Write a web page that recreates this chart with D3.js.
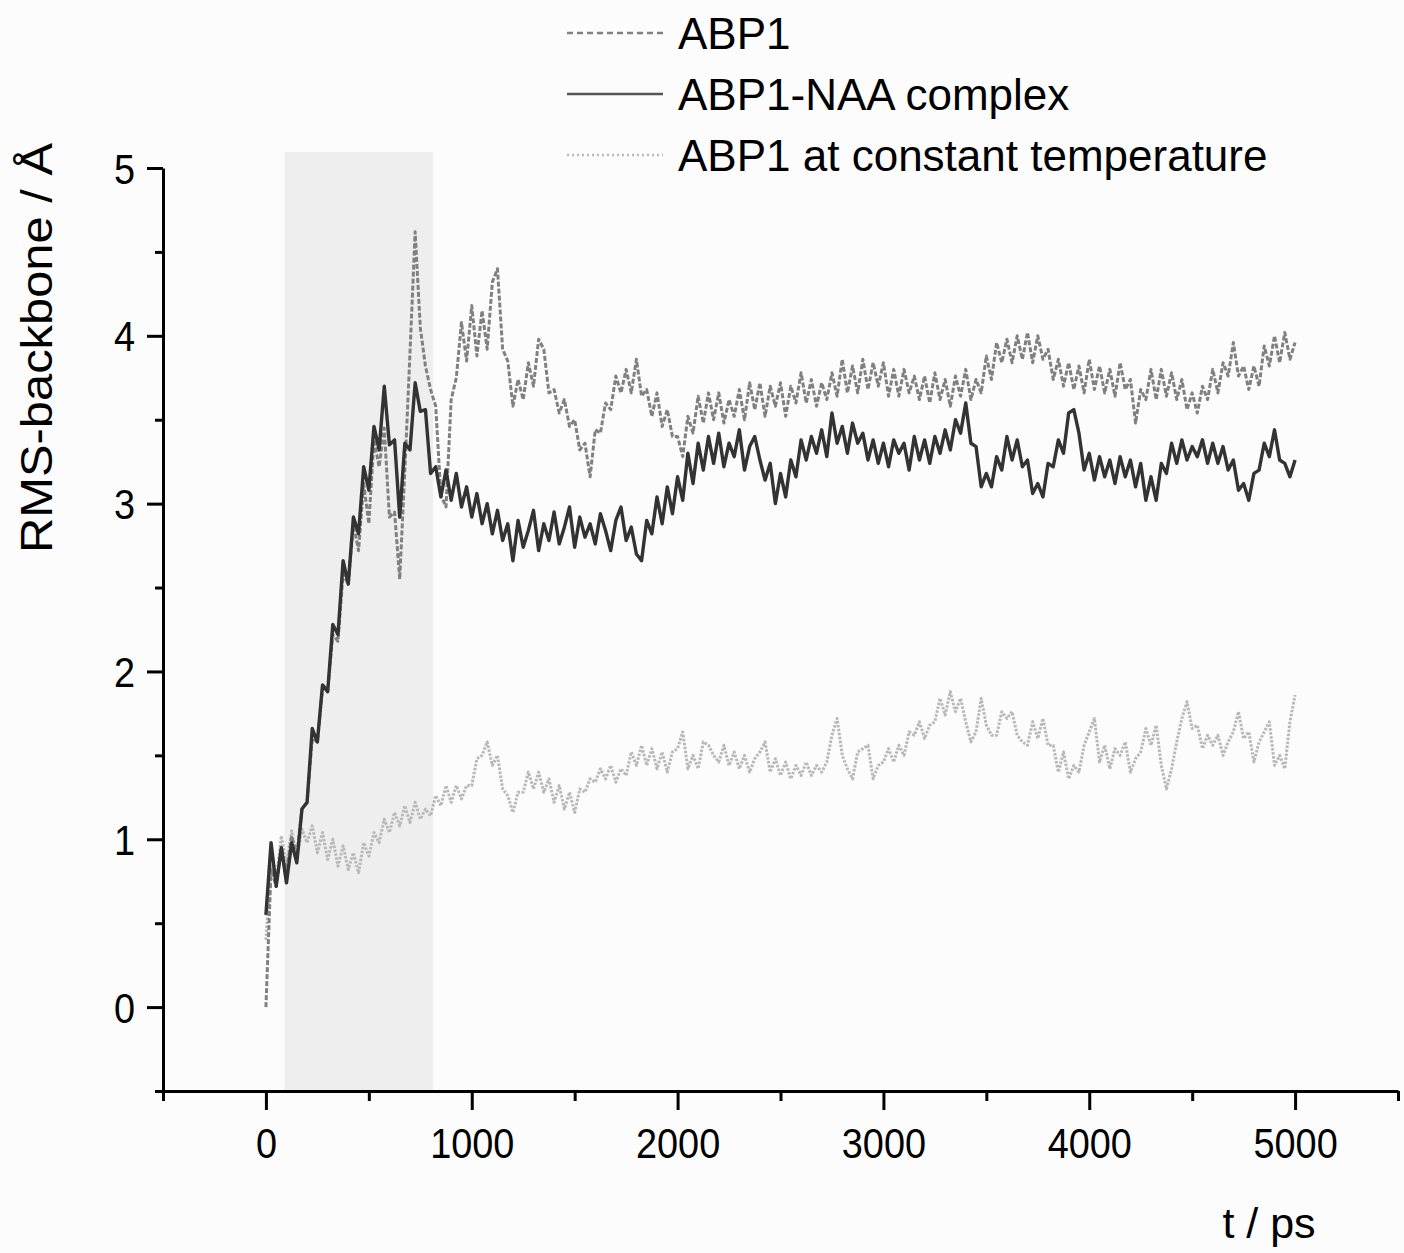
<!DOCTYPE html>
<html>
<head>
<meta charset="utf-8">
<script src="https://cdn.jsdelivr.net/npm/d3@7"></script>
<style>
body { margin: 0; background: #fcfcfc; }
text { font-family: "Liberation Sans", Arial, sans-serif; fill: #000; }
</style>
</head>
<body>
<svg id="chart" width="1404" height="1253"></svg>
<script>
// RMS of the backbone during the MD runs, every 25 ps
var step = 25;

var abp1 = [
	0.00, 0.82, 0.72, 0.95, 0.80, 1.02, 0.90, 1.18,
	1.22, 1.60, 1.58, 1.90, 1.88, 2.22, 2.18, 2.58,
	2.52, 2.88, 2.72, 3.12, 2.88, 3.38, 3.22, 3.45,
	2.92, 2.95, 2.55, 3.20, 3.90, 4.62, 4.05, 3.82,
	3.68, 3.58, 3.05, 2.98, 3.62, 3.75, 4.08, 3.85,
	4.18, 3.88, 4.15, 3.92, 4.32, 4.40, 3.92, 3.85,
	3.58, 3.74, 3.62, 3.84, 3.70, 3.98, 3.92, 3.66,
	3.68, 3.54, 3.62, 3.46, 3.50, 3.32, 3.36, 3.16,
	3.44, 3.42, 3.60, 3.56, 3.76, 3.66, 3.80, 3.66,
	3.86, 3.64, 3.68, 3.52, 3.66, 3.46, 3.56, 3.40,
	3.40, 3.28, 3.52, 3.42, 3.64, 3.48, 3.66, 3.50,
	3.66, 3.48, 3.62, 3.52, 3.68, 3.50, 3.72, 3.56,
	3.72, 3.52, 3.70, 3.58, 3.72, 3.52, 3.70, 3.60,
	3.78, 3.60, 3.74, 3.58, 3.72, 3.62, 3.78, 3.64,
	3.86, 3.66, 3.82, 3.66, 3.86, 3.68, 3.84, 3.70,
	3.84, 3.64, 3.80, 3.64, 3.80, 3.66, 3.76, 3.62,
	3.76, 3.60, 3.78, 3.62, 3.74, 3.58, 3.76, 3.64,
	3.80, 3.62, 3.74, 3.66, 3.88, 3.74, 3.96, 3.84,
	3.98, 3.84, 4.00, 3.86, 4.02, 3.84, 4.00, 3.86,
	3.92, 3.74, 3.86, 3.70, 3.84, 3.68, 3.82, 3.66,
	3.86, 3.68, 3.82, 3.66, 3.80, 3.64, 3.84, 3.68,
	3.74, 3.48, 3.68, 3.62, 3.80, 3.62, 3.80, 3.64,
	3.78, 3.62, 3.74, 3.56, 3.66, 3.54, 3.70, 3.62,
	3.80, 3.66, 3.84, 3.76, 3.96, 3.76, 3.82, 3.68,
	3.82, 3.70, 3.94, 3.82, 4.00, 3.84, 4.02, 3.86,
	3.96
];

var complex = [
	0.55, 0.98, 0.72, 0.95, 0.74, 0.98, 0.86, 1.18,
	1.22, 1.66, 1.58, 1.92, 1.88, 2.28, 2.22, 2.66,
	2.52, 2.92, 2.82, 3.22, 3.08, 3.46, 3.32, 3.70,
	3.35, 3.38, 2.92, 3.36, 3.32, 3.72, 3.55, 3.56,
	3.18, 3.22, 3.04, 3.20, 3.02, 3.18, 2.98, 3.10,
	2.92, 3.06, 2.88, 3.00, 2.82, 2.96, 2.78, 2.88,
	2.66, 2.90, 2.74, 2.84, 2.96, 2.72, 2.88, 2.78,
	2.95, 2.76, 2.86, 2.98, 2.74, 2.92, 2.80, 2.88,
	2.76, 2.94, 2.84, 2.72, 2.90, 2.98, 2.78, 2.86,
	2.70, 2.66, 2.90, 2.82, 3.04, 2.88, 3.10, 2.94,
	3.16, 3.02, 3.30, 3.12, 3.36, 3.20, 3.40, 3.24,
	3.42, 3.22, 3.36, 3.28, 3.44, 3.20, 3.34, 3.40,
	3.26, 3.14, 3.24, 3.00, 3.18, 3.04, 3.26, 3.16,
	3.38, 3.26, 3.40, 3.30, 3.44, 3.28, 3.54, 3.36,
	3.46, 3.30, 3.48, 3.36, 3.42, 3.26, 3.38, 3.24,
	3.36, 3.22, 3.38, 3.30, 3.36, 3.20, 3.40, 3.26,
	3.38, 3.24, 3.40, 3.30, 3.44, 3.32, 3.50, 3.42,
	3.60, 3.36, 3.34, 3.10, 3.18, 3.10, 3.28, 3.20,
	3.40, 3.26, 3.38, 3.22, 3.26, 3.06, 3.12, 3.04,
	3.24, 3.22, 3.38, 3.30, 3.54, 3.56, 3.42, 3.20,
	3.30, 3.14, 3.28, 3.16, 3.26, 3.12, 3.28, 3.16,
	3.26, 3.10, 3.24, 3.02, 3.16, 3.02, 3.24, 3.18,
	3.36, 3.24, 3.38, 3.26, 3.34, 3.28, 3.38, 3.24,
	3.36, 3.24, 3.34, 3.20, 3.26, 3.08, 3.12, 3.02,
	3.18, 3.20, 3.36, 3.28, 3.44, 3.26, 3.24, 3.16,
	3.26
];

var constTemp = [
	0.40, 0.85, 0.76, 1.02, 0.84, 1.05, 0.88, 1.06,
	0.98, 1.08, 0.92, 1.04, 0.88, 1.00, 0.84, 0.96,
	0.82, 0.92, 0.80, 0.98, 0.90, 1.04, 0.98, 1.12,
	1.04, 1.16, 1.08, 1.20, 1.10, 1.22, 1.12, 1.18,
	1.14, 1.26, 1.20, 1.32, 1.22, 1.32, 1.24, 1.32,
	1.32, 1.48, 1.50, 1.58, 1.44, 1.50, 1.30, 1.26,
	1.16, 1.28, 1.28, 1.40, 1.30, 1.40, 1.28, 1.36,
	1.22, 1.32, 1.18, 1.28, 1.16, 1.30, 1.28, 1.36,
	1.34, 1.42, 1.36, 1.44, 1.34, 1.42, 1.38, 1.52,
	1.44, 1.56, 1.44, 1.54, 1.42, 1.52, 1.40, 1.52,
	1.54, 1.64, 1.42, 1.50, 1.42, 1.58, 1.56, 1.50,
	1.46, 1.56, 1.44, 1.52, 1.42, 1.50, 1.40, 1.48,
	1.52, 1.58, 1.40, 1.48, 1.38, 1.46, 1.36, 1.44,
	1.38, 1.46, 1.38, 1.44, 1.40, 1.46, 1.62, 1.72,
	1.50, 1.42, 1.36, 1.52, 1.54, 1.56, 1.36, 1.44,
	1.46, 1.54, 1.46, 1.56, 1.50, 1.64, 1.62, 1.70,
	1.60, 1.68, 1.70, 1.84, 1.74, 1.88, 1.76, 1.84,
	1.70, 1.58, 1.64, 1.84, 1.68, 1.62, 1.62, 1.76,
	1.72, 1.76, 1.62, 1.58, 1.56, 1.70, 1.60, 1.72,
	1.56, 1.56, 1.40, 1.52, 1.36, 1.44, 1.40, 1.56,
	1.64, 1.72, 1.46, 1.56, 1.42, 1.54, 1.50, 1.58,
	1.40, 1.48, 1.52, 1.66, 1.56, 1.68, 1.44, 1.30,
	1.42, 1.58, 1.72, 1.82, 1.66, 1.68, 1.54, 1.62,
	1.56, 1.62, 1.50, 1.58, 1.64, 1.76, 1.60, 1.64,
	1.46, 1.58, 1.64, 1.70, 1.44, 1.50, 1.42, 1.70,
	1.86
];

var seriesNames = ["ABP1", "ABP1-NAA complex", "ABP1 at constant temperature"];
var xMajor = [0, 1000, 2000, 3000, 4000, 5000];
var xMinor = [-500, 500, 1500, 2500, 3500, 4500, 5500];
var yMajor = [0, 1, 2, 3, 4, 5];
var yMinor = [-0.5, 0.5, 1.5, 2.5, 3.5, 4.5];
var heatWindow = [90, 812]; // grey band, ps

var svg = d3.select("#chart");

var x = d3.scaleLinear().domain([-500, 5500]).range([163, 1398]);
var y = d3.scaleLinear().domain([-0.5, 5]).range([1091, 168]);

// shaded window
svg.append("rect")
	.attr("x", x(heatWindow[0]))
	.attr("y", y(5.095))
	.attr("width", x(heatWindow[1]) - x(heatWindow[0]))
	.attr("height", y(-0.5) - y(5.095))
	.attr("fill", "#eeeeee");

var line = d3.line()
	.x(function(d, i){ return x(i * step); })
	.y(function(d){ return y(d); });

var styles = [
	{ data: abp1, color: "#808080", width: 3, dash: "5,2" },
	{ data: complex, color: "#333333", width: 3.4, dash: null },
	{ data: constTemp, color: "#b8b8b8", width: 3, dash: "2.5,1.5" }
];

// draw order: light one first, dark one on top
[2, 0, 1].forEach(function(k){
	var s = styles[k];
	svg.append("path")
		.datum(s.data)
		.attr("d", line)
		.attr("fill", "none")
		.attr("stroke", s.color)
		.attr("stroke-width", s.width)
		.attr("stroke-linejoin", "round")
		.attr("stroke-dasharray", s.dash);
});

// axes
function styleAxis(g){
	g.selectAll("path, line").attr("stroke", "#000").attr("stroke-width", 3);
	g.selectAll("text").style("font-size", "43px").attr("fill", "#000");
}

var xAxisG = svg.append("g").attr("transform", "translate(0," + y(-0.5) + ")");
xAxisG.call(d3.axisBottom(x).tickValues(xMinor).tickSize(10).tickSizeOuter(0).tickFormat(""));
xAxisG.append("g").call(d3.axisBottom(x).tickValues(xMajor).tickSize(19).tickSizeOuter(0).tickFormat(d3.format("d"))).select(".domain").remove();
styleAxis(xAxisG);
xAxisG.selectAll("text")
	.attr("y", 67).attr("dy", 0)
	.attr("transform", "scale(0.88,1)");

var yAxisG = svg.append("g").attr("transform", "translate(" + x(-500) + ",0)");
yAxisG.call(d3.axisLeft(y).tickValues(yMinor).tickSize(8).tickSizeOuter(0).tickFormat(""));
yAxisG.append("g").call(d3.axisLeft(y).tickValues(yMajor).tickSize(16).tickSizeOuter(0).tickFormat(d3.format("d"))).select(".domain").remove();
styleAxis(yAxisG);
yAxisG.selectAll("text")
	.attr("x", -31.8).attr("dy", "0.35em")
	.attr("transform", "scale(0.88,1)");

// axis titles
svg.append("text")
	.attr("transform", "translate(52,348) rotate(-90)")
	.attr("text-anchor", "middle")
	.attr("textLength", 410)
	.attr("lengthAdjust", "spacingAndGlyphs")
	.style("font-size", "44px")
	.text("RMS-backbone / Å");

svg.append("text")
	.attr("x", 1269).attr("y", 1238)
	.attr("text-anchor", "middle")
	.style("font-size", "43px")
	.text("t / ps");

// legend
var legendY = [33, 94, 155];
seriesNames.forEach(function(name, k){
	var s = styles[k];
	svg.append("line")
		.attr("x1", 567).attr("x2", 663)
		.attr("y1", legendY[k]).attr("y2", legendY[k])
		.attr("stroke", k == 1 ? "#555555" : s.color)
		.attr("stroke-width", 2.5)
		.attr("stroke-dasharray", k == 0 ? "6,4" : (k == 2 ? "2,3" : null));
	svg.append("text")
		.attr("x", 678).attr("y", legendY[k] + 16)
		.style("font-size", "44px")
		.text(name);
});
</script>
</body>
</html>
